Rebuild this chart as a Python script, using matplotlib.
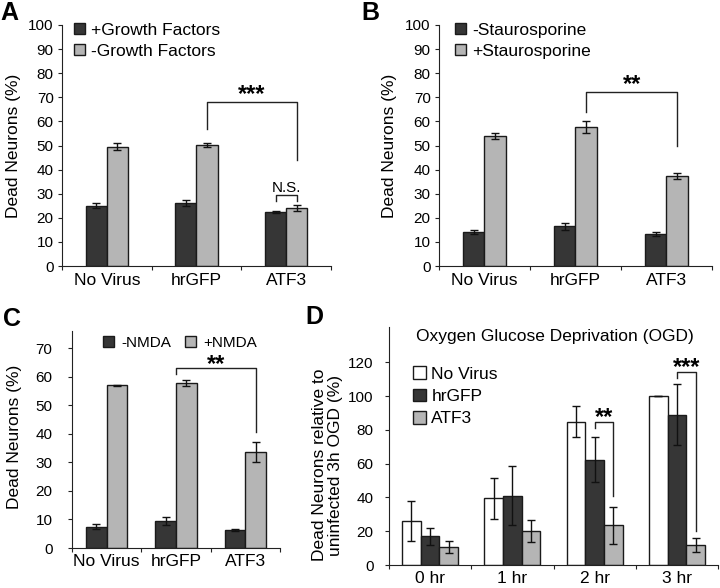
import numpy as np
import matplotlib.pyplot as plt
from matplotlib.patches import Patch

plt.rcParams['font.family'] = ['Liberation Sans', 'DejaVu Sans']
plt.rcParams['font.size'] = 12.5

# data
groups = ['No Virus', 'hrGFP', 'ATF3']

a_labels = ['+Growth Factors', '-Growth Factors']
a_dark = [25.0, 26.0, 22.5]
a_dark_err = [1.0, 1.2, 0.5]
a_light = [49.5, 50.3, 24.0]
a_light_err = [1.5, 0.8, 1.2]

b_labels = ['-Staurosporine', '+Staurosporine']
b_dark = [14.0, 16.5, 13.3]
b_dark_err = [0.8, 1.5, 0.8]
b_light = [54.0, 57.5, 37.5]
b_light_err = [1.2, 2.5, 1.2]

c_labels = ['-NMDA', '+NMDA']
c_dark = [7.5, 9.5, 6.3]
c_dark_err = [1.0, 1.5, 0.4]
c_light = [57.0, 57.7, 33.5]
c_light_err = [0.2, 1.0, 3.5]

d_times = ['0 hr', '1 hr', '2 hr', '3 hr']
d_labels = ['No Virus', 'hrGFP', 'ATF3']
d_white = [26.0, 39.5, 85.0, 100.0]
d_white_err = [12.0, 12.0, 9.0, 0.0]
d_dark = [17.0, 41.0, 62.5, 89.0]
d_dark_err = [5.0, 17.5, 13.5, 18.0]
d_light = [10.5, 20.0, 23.5, 12.0]
d_light_err = [3.5, 6.5, 11.0, 4.0]

DARK = '#363636'
LIGHT = '#b5b5b5'
EDGE = '#1a1a1a'

fig = plt.figure(figsize=(7.2, 5.88), dpi=100)


def style_axes(ax, n, ylim, yticks, ypad=3):
    ax.set_xlim(-0.5, n - 0.5)
    ax.set_ylim(*ylim)
    ax.set_yticks(yticks)
    ax.spines['top'].set_visible(False)
    ax.spines['right'].set_visible(False)
    ax.spines['left'].set_color('#222222')
    ax.spines['bottom'].set_color('#222222')
    ax.set_xticks(np.arange(n + 1) - 0.5)
    ax.set_xticklabels([])
    ax.set_xticks(np.arange(n), minor=True)
    ax.tick_params(axis='x', which='major', length=3, direction='out', color='#222222')
    ax.tick_params(axis='x', which='minor', length=0, labelsize=12.5, pad=5)
    ax.tick_params(axis='y', length=3, direction='out', labelsize=11, color='#222222', pad=ypad)


def bars(ax, xs, vals, errs, color, w):
    ax.bar(xs, vals, width=w, color=color, edgecolor=EDGE, linewidth=1.0, zorder=2)
    ax.errorbar(xs, vals, yerr=errs, fmt='none', ecolor='#111111', elinewidth=1.0,
                capsize=3, capthick=1.0, zorder=3)


def bracket(ax, x1, x2, y_top, y1, y2, text, ty, fs=17):
    ax.plot([x1, x1, x2, x2], [y1, y_top, y_top, y2], color='#222222', lw=1.0, zorder=4)
    if text:
        ax.text((x1 + x2) / 2, ty, text, ha='center', va='center', fontsize=fs, fontweight='bold')


def legend(ax, handles, labels, anchor, **kw):
    opts = dict(loc='upper left', bbox_to_anchor=anchor, frameon=False, fontsize=12.5,
                handlelength=0.65, handleheight=0.65, handletextpad=0.3,
                labelspacing=0.35, borderaxespad=0, borderpad=0)
    opts.update(kw)
    ax.legend(handles, labels, **opts)


x = np.arange(3)

# Panel A
ax = fig.add_axes([0.0861, 0.5476, 0.3736, 0.4099])
w = 0.235
bars(ax, x - w / 2, a_dark, a_dark_err, DARK, w)
bars(ax, x + w / 2, a_light, a_light_err, LIGHT, w)
style_axes(ax, 3, (0, 100), range(0, 101, 10))
ax.set_xticklabels(groups, minor=True)
ax.set_ylabel('Dead Neurons (%)', fontsize=12.5)
ax.yaxis.set_label_coords(-0.152, 0.5)
bracket(ax, 1 + w / 2, 2 + w / 2, 68, 57, 44, '***', 71.2)
bracket(ax, 2 - w / 2, 2 + w / 2, 29.5, 26.8, 26.8, '', 0)
ax.text(2, 32.5, 'N.S.', ha='center', va='center', fontsize=11)
handles = [Patch(facecolor=DARK, edgecolor=EDGE), Patch(facecolor=LIGHT, edgecolor=EDGE)]
legend(ax, handles, a_labels, (0.045, 1.01))
fig.text(0.0, 0.998, 'A', fontsize=18, fontweight='bold', va='top', ha='left')

# Panel B
ax = fig.add_axes([0.6097, 0.5476, 0.379, 0.4099])
w = 0.236
bars(ax, x - w / 2, b_dark, b_dark_err, DARK, w)
bars(ax, x + w / 2, b_light, b_light_err, LIGHT, w)
style_axes(ax, 3, (0, 100), range(0, 101, 10))
ax.set_xticklabels(groups, minor=True)
ax.set_ylabel('Dead Neurons (%)', fontsize=12.5)
ax.yaxis.set_label_coords(-0.155, 0.5)
bracket(ax, 1 + w / 2, 2 + w / 2, 72, 64, 50, '**', 75.3)
handles = [Patch(facecolor=DARK, edgecolor=EDGE), Patch(facecolor=LIGHT, edgecolor=EDGE)]
legend(ax, handles, b_labels, (0.059, 1.01), handletextpad=0.35)
fig.text(0.502, 0.998, 'B', fontsize=18, fontweight='bold', va='top', ha='left')

# Panel C
ax = fig.add_axes([0.1, 0.068, 0.2889, 0.369])
w = 0.30
bars(ax, x - w / 2, c_dark, c_dark_err, DARK, w)
bars(ax, x + w / 2, c_light, c_light_err, LIGHT, w)
style_axes(ax, 3, (0, 76), range(0, 71, 10), ypad=11)
ax.set_xticklabels(groups, minor=True)
ax.tick_params(axis='x', which='minor', pad=4)
ax.set_ylabel('Dead Neurons (%)', fontsize=12.5)
ax.yaxis.set_label_coords(-0.24, 0.51)
bracket(ax, 1.0, 2 + w / 2, 63, 61, 40.5, '**', 64.2)
handles = [Patch(facecolor=DARK, edgecolor=EDGE), Patch(facecolor=LIGHT, edgecolor=EDGE)]
legend(ax, handles, c_labels, (0.149, 0.945), loc='center left', fontsize=11, ncol=2,
       handlelength=0.75, handleheight=0.75, handletextpad=0.45, columnspacing=0.9)
fig.text(0.004, 0.478, 'C', fontsize=18, fontweight='bold', va='top', ha='left')

# Panel D
ax = fig.add_axes([0.5403, 0.0391, 0.457, 0.4048])
x4 = np.arange(4)
w = 0.227
bars(ax, x4 - w, d_white, d_white_err, 'white', w)
bars(ax, x4, d_dark, d_dark_err, DARK, w)
bars(ax, x4 + w, d_light, d_light_err, LIGHT, w)
style_axes(ax, 4, (0, 141), range(0, 121, 20), ypad=8)
ax.set_xticklabels(d_times, minor=True)
ax.tick_params(axis='x', which='minor', pad=4)
ax.set_ylabel('Dead Neurons relative to\nuninfected 3h OGD (%)', fontsize=12.5, linespacing=1.05)
ax.yaxis.set_label_coords(-0.14, 0.42)
ax.text(1.52, 135.3, 'Oxygen Glucose Deprivation (OGD)', ha='center', va='center', fontsize=12.5)
bracket(ax, 2.0, 2 + w, 85, 81, 41, '**', 87.2)
bracket(ax, 3.0, 3 + w, 114.5, 111, 20, '***', 117)
handles = [Patch(facecolor='white', edgecolor=EDGE), Patch(facecolor=DARK, edgecolor=EDGE),
           Patch(facecolor=LIGHT, edgecolor=EDGE)]
legend(ax, handles, d_labels, (0.073, 0.835), handlelength=0.75, handleheight=0.75,
       labelspacing=0.4)
fig.text(0.424, 0.482, 'D', fontsize=18, fontweight='bold', va='top', ha='left')

fig.savefig('out.png', dpi=100)
